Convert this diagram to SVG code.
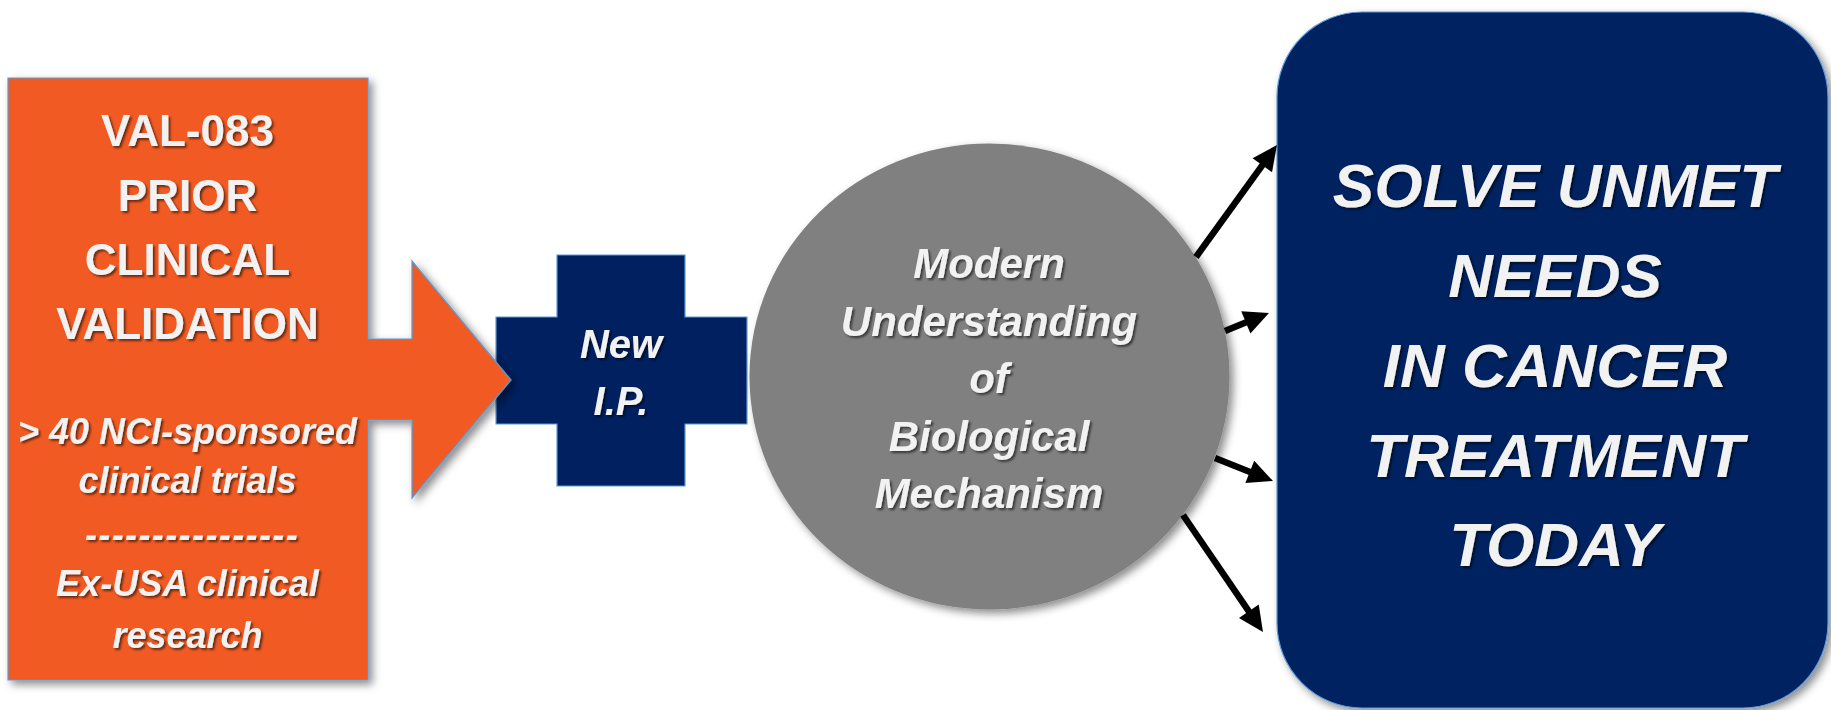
<svg xmlns="http://www.w3.org/2000/svg" width="1831" height="710" viewBox="0 0 1831 710">
  <defs>
    <filter id="shapeShadow" x="-10%" y="-10%" width="125%" height="125%">
      <feDropShadow dx="4" dy="4" stdDeviation="4" flood-color="#000" flood-opacity="0.45"/>
    </filter>
    <filter id="textShadow" x="-5%" y="-20%" width="115%" height="150%">
      <feDropShadow dx="2" dy="2" stdDeviation="1.2" flood-color="#000" flood-opacity="0.55"/>
    </filter>
    <marker id="arrowHead" markerUnits="userSpaceOnUse" markerWidth="30" markerHeight="30" orient="auto" refX="0" refY="0" overflow="visible">
      <path d="M-7,-12 L18,0 L-7,12 Z" fill="#000"/>
    </marker>
    <style>
      .bold { font-family: "Liberation Sans", Arial, sans-serif; font-weight: bold; fill: #F2F2F2; text-anchor: middle; filter: url(#textShadow); }
      .ital { font-family: "Liberation Sans", Arial, sans-serif; font-weight: bold; font-style: italic; fill: #F2F2F2; text-anchor: middle; filter: url(#textShadow); }
      .edge { stroke: #5B9BD5; stroke-width: 1.2; }
      .conn { stroke: #000; stroke-width: 6.5; fill: none; marker-end: url(#arrowHead); }
    </style>
  </defs>

  <rect width="1831" height="710" fill="#FFFFFF"/>

  <!-- New I.P. cross -->
  <g id="node-new-ip">
    <path class="edge" d="M557,255 H685 V317 H747 V424 H685 V486 H557 V424 H496 V317 H557 Z" fill="#002060"/>
    <text class="ital" x="621" y="358" font-size="40">New</text>
    <text class="ital" x="621" y="415" font-size="40">I.P.</text>
  </g>

  <!-- Prior clinical validation block with arrow -->
  <g id="node-validation">
    <path class="edge" d="M8,78 H368 V339 H412 V261 L511,380 L412,498 V420 H368 V680 H8 Z" fill="#F15A24" filter="url(#shapeShadow)"/>
    <text class="bold" x="187.5" y="146" font-size="44">VAL-083</text>
    <text class="bold" x="187.5" y="211" font-size="44">PRIOR</text>
    <text class="bold" x="187.5" y="275" font-size="44">CLINICAL</text>
    <text class="bold" x="187.5" y="339" font-size="44">VALIDATION</text>
    <text class="ital" x="187.5" y="444" font-size="36">&gt; 40 NCI-sponsored</text>
    <text class="ital" x="187.5" y="493" font-size="36">clinical trials</text>
    <text class="ital" x="192" y="547" font-size="36" letter-spacing="1.4">----------------</text>
    <text class="ital" x="187.5" y="596" font-size="36">Ex-USA clinical</text>
    <text class="ital" x="187.5" y="648" font-size="36">research</text>
  </g>

  <!-- Biological mechanism circle -->
  <g id="node-mechanism">
    <ellipse cx="989.5" cy="376.5" rx="240" ry="233" fill="#808080" filter="url(#shapeShadow)"/>
    <text class="ital" x="989" y="278" font-size="42">Modern</text>
    <text class="ital" x="989" y="335.5" font-size="42">Understanding</text>
    <text class="ital" x="989" y="393" font-size="42">of</text>
    <text class="ital" x="989" y="450.5" font-size="42">Biological</text>
    <text class="ital" x="989" y="508" font-size="42">Mechanism</text>
  </g>

  <!-- Outcome panel -->
  <g id="node-unmet-needs">
    <rect class="edge" x="1277" y="12" width="551" height="696" rx="85" ry="85" fill="#002060" filter="url(#shapeShadow)"/>
    <text class="ital" x="1555" y="207" font-size="62">SOLVE UNMET</text>
    <text class="ital" x="1555" y="297" font-size="62">NEEDS</text>
    <text class="ital" x="1555" y="387" font-size="62">IN CANCER</text>
    <text class="ital" x="1555" y="477" font-size="62">TREATMENT</text>
    <text class="ital" x="1555" y="566" font-size="62">TODAY</text>
  </g>

  <!-- Connectors from the mechanism circle to the outcome panel -->
  <g id="connectors">
    <line class="conn" x1="1196" y1="257" x2="1266.4" y2="159.6"/>
    <line class="conn" x1="1225" y1="331" x2="1252.3" y2="319.8"/>
    <line class="conn" x1="1215" y1="458" x2="1256.3" y2="474.4"/>
    <line class="conn" x1="1183" y1="515" x2="1252.8" y2="617.1"/>
  </g>
</svg>
